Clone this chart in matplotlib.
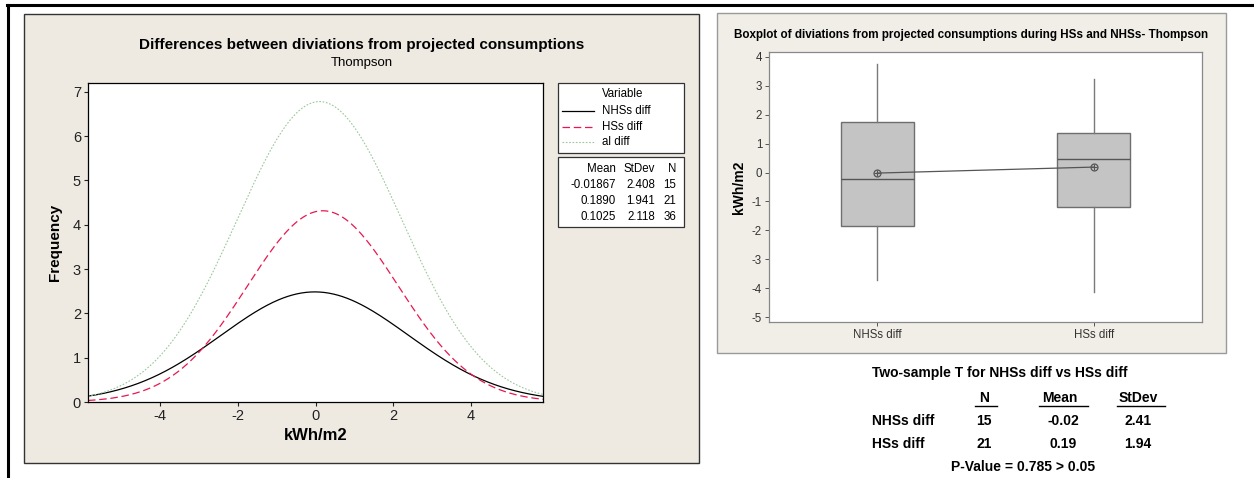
import matplotlib.pyplot as plt
import numpy as np
from matplotlib.patches import Rectangle
from matplotlib.lines import Line2D

plt.rcParams["axes.unicode_minus"] = False

W, H = 1254, 478

# fitted normal curves (legend table of the left chart)
groups = ["NHSs diff", "HSs diff", "all diff"]
legend_names = ["NHSs diff", "HSs diff", "al diff"]
means = [-0.01867, 0.1890, 0.1025]
stdevs = [2.408, 1.941, 2.118]
counts = [15, 21, 36]
bin_width = 1.0

# boxplot
box_names = ["NHSs diff", "HSs diff"]
q1 = [-1.85, -1.20]
med = [-0.22, 0.48]
q3 = [1.75, 1.37]
whis_lo = [-3.70, -4.12]
whis_hi = [3.75, 3.22]
p_value = 0.785

beige = "#eeeae2"
font = "Liberation Sans"


def fx(x):
    return x / W


def fy(y):
    return 1 - y / H


def rect(x0, y0, x1, y1):
    return [x0 / W, 1 - y1 / H, (x1 - x0) / W, (y1 - y0) / H]


fig = plt.figure(figsize=(W / 100, H / 100), dpi=100)
fig.patch.set_facecolor("white")

# page border lines
fig.add_artist(Line2D([fx(7), fx(1254)], [fy(5), fy(5)], color="black", lw=2.2))
fig.add_artist(Line2D([fx(8), fx(8)], [fy(5), fy(478)], color="black", lw=2.2))

# panel backgrounds
fig.add_artist(Rectangle((fx(24), fy(463)), (699 - 24) / W, (463 - 14) / H,
                         facecolor=beige, edgecolor="#333333", lw=1.0, zorder=0))
fig.add_artist(Rectangle((fx(717), fy(353)), (1226 - 717) / W, (353 - 13) / H,
                         facecolor="#f0eee7", edgecolor="#9a9a9a", lw=1.0, zorder=0))

# ---------------- left chart ----------------
ax = fig.add_axes(rect(88, 83, 543, 402))
x = np.linspace(-5.85, 5.85, 400)
styles = [dict(color="black", ls="-", lw=0.9),
          dict(color="#e8174f", ls=(0, (6, 3)), lw=0.9),
          dict(color="#9cc79c", ls=(0, (1.5, 1.5)), lw=0.8)]
for m, s, n, st in zip(means, stdevs, counts, styles):
    y = n * bin_width * np.exp(-0.5 * ((x - m) / s) ** 2) / (s * np.sqrt(2 * np.pi))
    ax.plot(x, y, **st)
ax.set_xlim(-5.85, 5.85)
ax.set_ylim(0, 7.2)
ax.set_xticks([-4, -2, 0, 2, 4])
ax.set_yticks(range(0, 8))
ax.tick_params(labelsize=10.5, length=3, width=0.8, pad=2, colors="#222222")
for lab in ax.get_xticklabels() + ax.get_yticklabels():
    lab.set_family(font)
for sp in ax.spines.values():
    sp.set_linewidth(0.9)
ax.set_xlabel("kWh/m2", fontsize=12, fontweight="bold", family=font, labelpad=4)
ax.set_ylabel("Frequency", fontsize=11, fontweight="bold", family=font, labelpad=8)

fig.text(fx(362), fy(45), "Differences between diviations from projected consumptions",
         ha="center", va="center", fontsize=11, fontweight="bold", family=font)
fig.text(fx(362), fy(63), "Thompson", ha="center", va="center", fontsize=9.5, family=font)

# legend boxes
fig.add_artist(Rectangle((fx(558), fy(153)), (684 - 558) / W, (153 - 83) / H,
                         facecolor="white", edgecolor="#333333", lw=0.9))
fig.add_artist(Rectangle((fx(558), fy(227)), (684 - 558) / W, (227 - 157) / H,
                         facecolor="white", edgecolor="#333333", lw=0.9))
fig.text(fx(623), fy(94), "Variable", ha="center", va="center", fontsize=8.3, family=font)
for i, (name, st) in enumerate(zip(legend_names, styles)):
    yy = 111 + i * 15.5
    fig.add_artist(Line2D([fx(562), fx(594)], [fy(yy), fy(yy)], **st))
    fig.text(fx(602), fy(yy), name, ha="left", va="center", fontsize=8.3, family=font)
hdr_y = 169
fig.text(fx(616), fy(hdr_y), "Mean", ha="right", va="center", fontsize=8.3, family=font)
fig.text(fx(655), fy(hdr_y), "StDev", ha="right", va="center", fontsize=8.3, family=font)
fig.text(fx(676), fy(hdr_y), "N", ha="right", va="center", fontsize=8.3, family=font)
mean_txt = ["-0.01867", "0.1890", "0.1025"]
for i, (mt, s, n) in enumerate(zip(mean_txt, stdevs, counts)):
    yy = 185 + i * 16
    fig.text(fx(616), fy(yy), mt, ha="right", va="center", fontsize=8.3, family=font)
    fig.text(fx(655), fy(yy), f"{s:.3f}", ha="right", va="center", fontsize=8.3, family=font)
    fig.text(fx(676), fy(yy), str(n), ha="right", va="center", fontsize=8.3, family=font)

# ---------------- right chart ----------------
bx = fig.add_axes(rect(769, 52, 1202, 322))
stats = []
for i in range(len(box_names)):
    stats.append(dict(label=box_names[i], q1=q1[i], med=med[i], q3=q3[i],
                      whislo=whis_lo[i], whishi=whis_hi[i], fliers=[]))
bx.bxp(stats, positions=[1, 2], widths=0.335, showcaps=False, patch_artist=True,
       boxprops=dict(facecolor="#c4c4c4", edgecolor="#6e6e6e", lw=1.0),
       medianprops=dict(color="#555555", lw=1.0),
       whiskerprops=dict(color="#7a7a7a", lw=1.0))
bx.plot([1, 2], means[:2], color="#555555", lw=0.9, marker="o", ms=5,
        mfc="none", mec="#555555", mew=0.9)
bx.plot([1, 2], means[:2], ls="none", marker="+", ms=5, mec="#555555", mew=0.8)
bx.set_xlim(0.5, 2.5)
bx.set_ylim(-5.17, 4.17)
bx.set_yticks(range(-5, 5))
bx.set_xticks([1, 2])
bx.set_xticklabels(box_names)
bx.tick_params(labelsize=8.3, length=3, width=0.7, pad=2, colors="#555555",
               labelcolor="#333333")
for lab in bx.get_xticklabels() + bx.get_yticklabels():
    lab.set_family(font)
for sp in bx.spines.values():
    sp.set_color("#888888")
    sp.set_linewidth(0.9)
bx.set_ylabel("kWh/m2", fontsize=10, fontweight="bold", family=font, labelpad=4)
fig.text(fx(971), fy(35), "Boxplot of diviations from projected consumptions during HSs and NHSs- Thompson",
         ha="center", va="center", fontsize=8.4, fontweight="bold", family=font)

# ---------------- t-test table ----------------
tkw = dict(fontsize=10, fontweight="bold", family=font, va="center")
fig.text(fx(872), fy(373), "Two-sample T for NHSs diff vs HSs diff", ha="left", **tkw)
cols = [984, 1060, 1138]
heads = ["N", "Mean", "StDev"]
ul = [(975, 997), (1039, 1088), (1117, 1165)]
for c, h, (u0, u1) in zip(cols, heads, ul):
    fig.text(fx(c), fy(398), h, ha="center", **tkw)
    fig.add_artist(Line2D([fx(u0), fx(u1)], [fy(406), fy(406)], color="black", lw=1.0))
for i in range(2):
    yy = 421 + i * 23
    fig.text(fx(872), fy(yy), box_names[i], ha="left", **tkw)
    fig.text(fx(cols[0]), fy(yy), str(counts[i]), ha="center", **tkw)
    fig.text(fx(cols[1] + 3), fy(yy), f"{means[i]:.2f}", ha="center", **tkw)
    fig.text(fx(cols[2]), fy(yy), f"{stdevs[i]:.2f}", ha="center", **tkw)
fig.text(fx(1023), fy(467), f"P-Value = {p_value} > 0.05", ha="center", **tkw)

fig.savefig("out.png", dpi=100)
